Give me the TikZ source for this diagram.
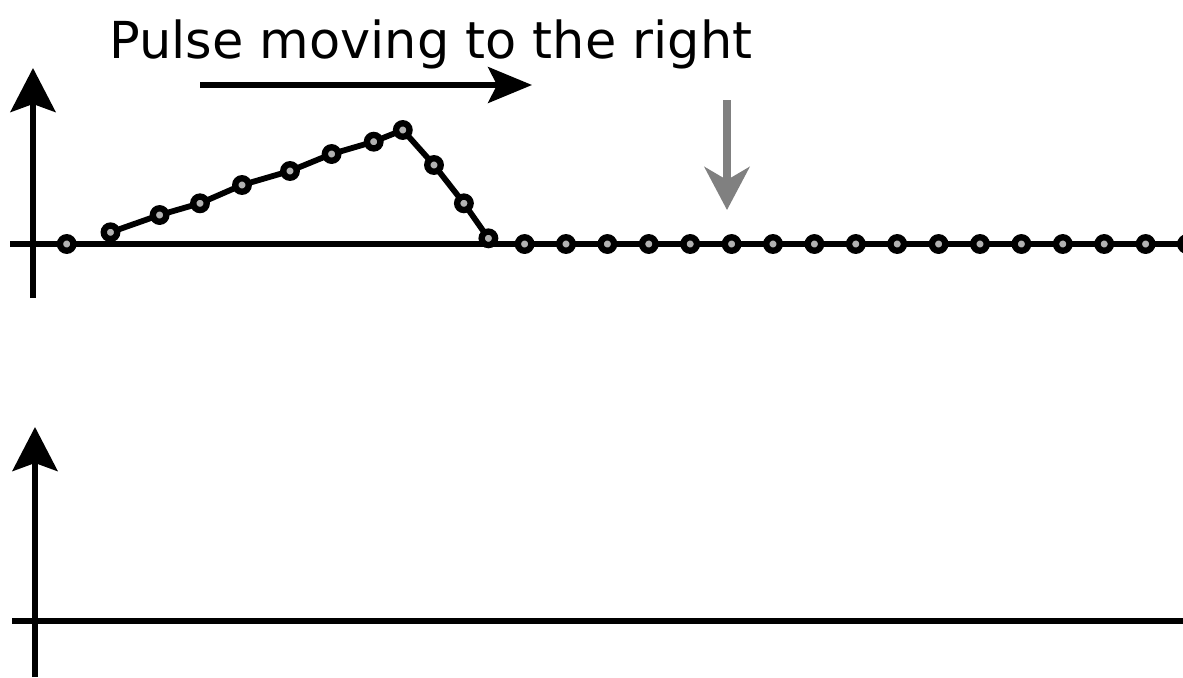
\documentclass[tikz,border=0pt]{standalone}
\usepackage{fontspec}
\setmainfont{DejaVu Sans}
\usetikzlibrary{arrows.meta}

\begin{document}
\begin{tikzpicture}[x=0.02cm,y=-0.02cm,
    axis/.style={line width=3.3pt},
    axisarrow/.style={axis,-{Stealth[length=0.88cm,width=0.9cm,inset=0.16cm]}},
    wave/.style={line width=3.3pt,line join=round},
    bead/.style={circle,draw=black,fill=gray!60,line width=3.6pt,inner sep=0pt,minimum size=0.27cm},
    label/.style={font=\fontsize{29}{34}\selectfont}]

\useasboundingbox (0,0) rectangle (1183,677);

% upper axes
\coordinate (topy0) at (33,298);
\coordinate (topy1) at (33,68);
\coordinate (topx0) at (10,244);
\coordinate (topx1) at (1183,244);
\draw[axis] (topx0) -- (topx1);
\draw[axisarrow] (topy0) -- (topy1);

% lower axes
\coordinate (boty0) at (35,677);
\coordinate (boty1) at (35,427);
\coordinate (botx0) at (12,621);
\coordinate (botx1) at (1183,621);
\draw[axis] (botx0) -- (botx1);
\draw[axisarrow] (boty0) -- (boty1);

% label and direction arrow
\node[label,anchor=base west] (title) at (103,58) {Pulse moving to the right};
\coordinate (dir0) at (200,85);
\coordinate (dir1) at (532,85);
\draw[line width=2.9pt,-{Stealth[length=0.88cm,width=0.72cm,inset=0.18cm]}] (dir0) -- (dir1);

% grey marker arrow
\coordinate (mark0) at (727,100);
\coordinate (mark1) at (727,210);
\draw[gray,line width=4pt,-{Stealth[length=0.86cm,width=0.9cm,inset=0.26cm]}] (mark0) -- (mark1);

% pulse
\foreach \x/\y [count=\i] in {110.5/232.3,159.6/215,200/203.3,242/185,290/171,
    331.6/154,373.7/141.7,402.8/130,434/165,463.9/203.3,488.4/238.3}
  \coordinate (p\i) at (\x,\y);
\draw[wave] (p1) \foreach \i in {2,...,11} {-- (p\i)};

% beads
\node[bead] (b0) at (66.7,244) {};
\foreach \i in {1,...,11}
  \node[bead] (bp\i) at (p\i) {};
\foreach \k in {0,...,16}
  \node[bead] (bf\k) at (524.6+41.4*\k,244) {};
\end{tikzpicture}
\end{document}
